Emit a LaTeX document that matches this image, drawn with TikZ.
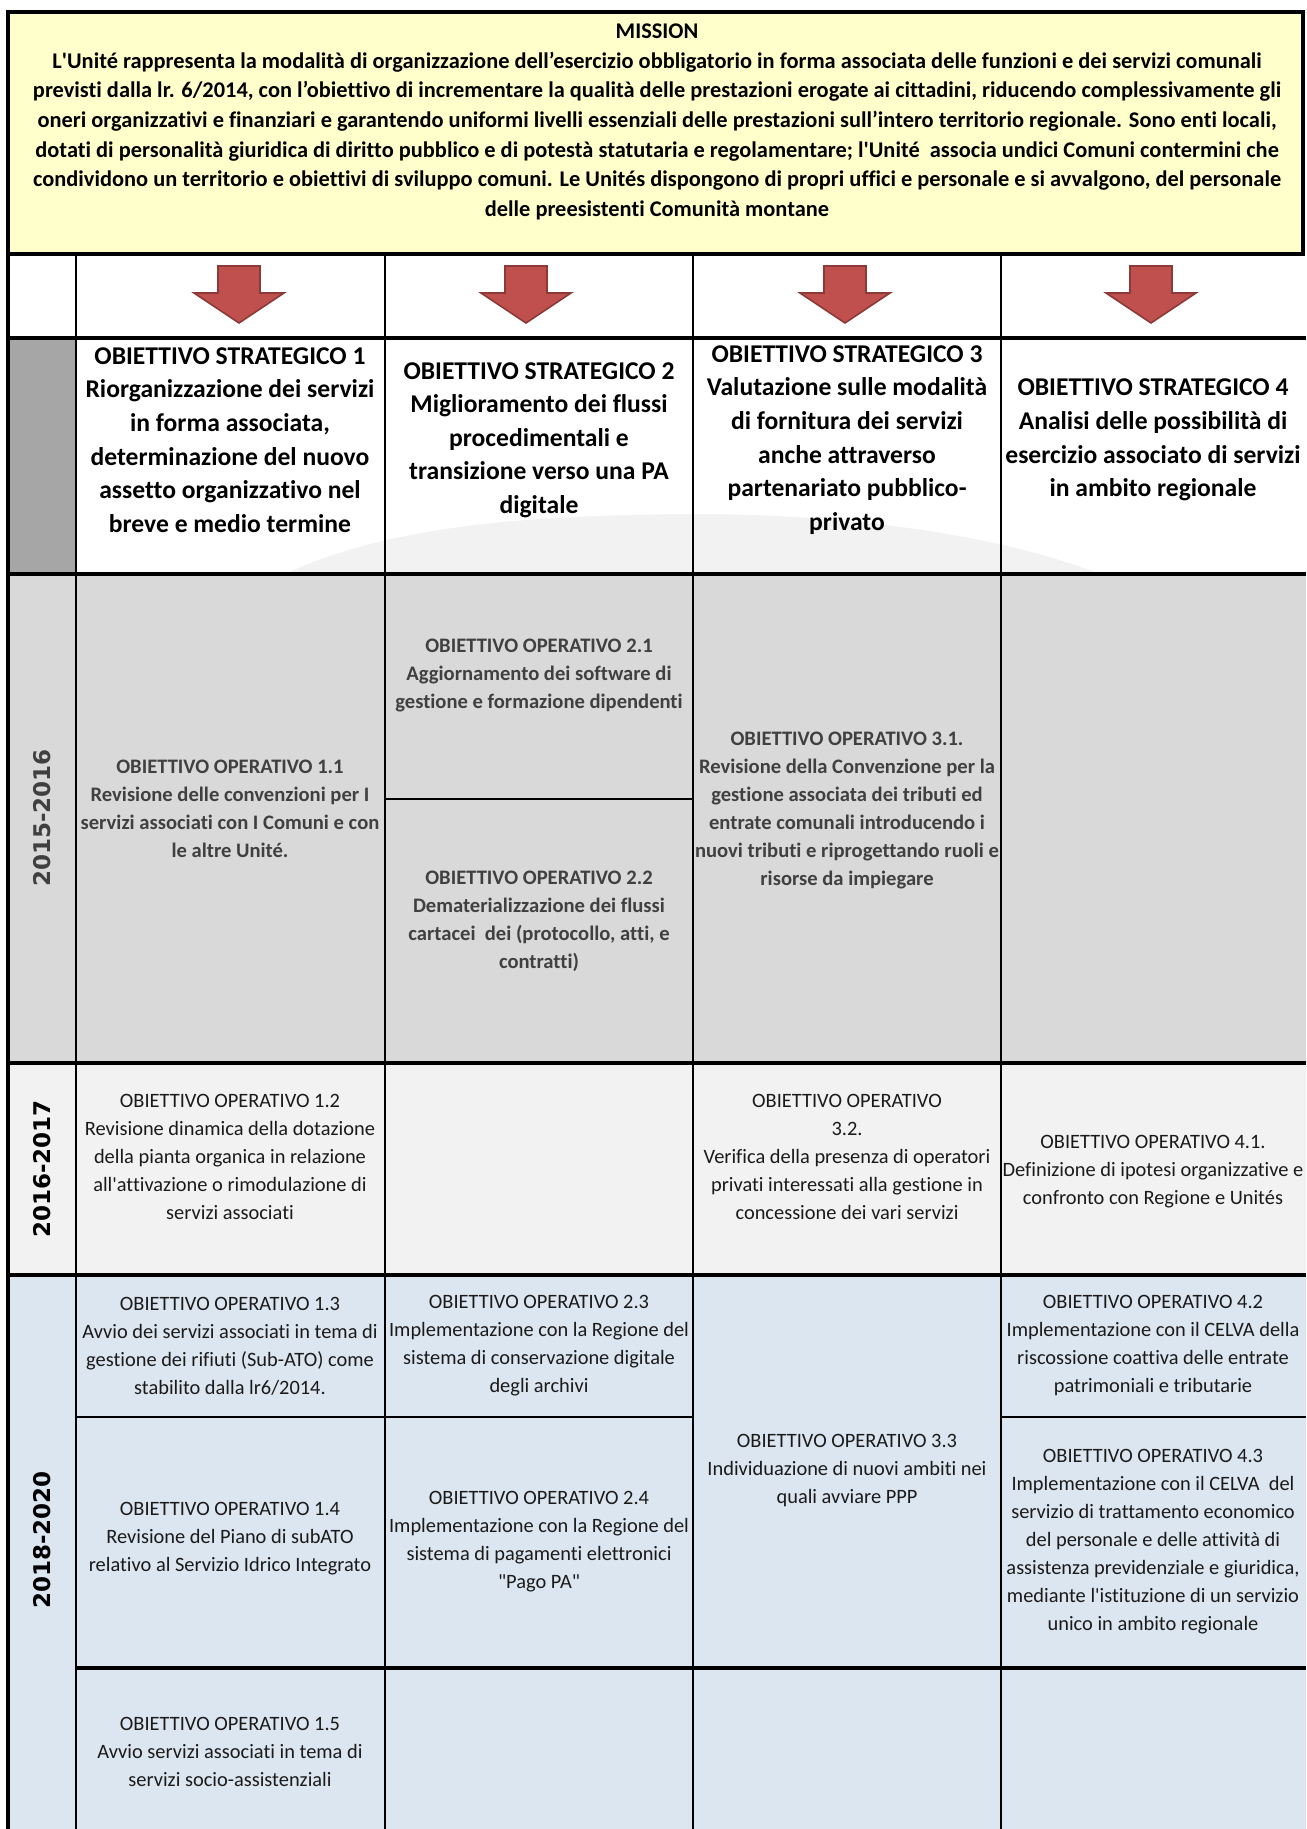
\documentclass[tikz,border=0pt]{standalone}
\usepackage{fontspec}
\setmainfont{Carlito}[Ligatures=NoCommon]
\newfontfamily\yearfont{DejaVu Sans}

\definecolor{missionfill}{HTML}{FFFFCC}
\definecolor{stratgray}{HTML}{A6A6A6}
\definecolor{rowA}{HTML}{D9D9D9}
\definecolor{rowB}{HTML}{F2F2F2}
\definecolor{rowC}{HTML}{DCE6F1}
\definecolor{arrowred}{HTML}{C0504D}
\definecolor{arrowdark}{HTML}{8C3A38}
\definecolor{opgray}{HTML}{404040}
\definecolor{optext}{HTML}{1A1A1A}

\newcommand{\apos}{\textquotesingle}

\tikzset{
  mission/.style={inner sep=0pt, align=center, font=\fontsize{11.2}{14.8}\selectfont\bfseries},
  strat/.style={inner sep=0pt, align=center, font=\fontsize{12.8}{16.8}\selectfont\bfseries},
  opbold/.style={inner sep=0pt, align=center, text=opgray, font=\fontsize{10.3}{14}\selectfont\bfseries},
  opreg/.style={inner sep=0pt, align=center, text=optext, font=\fontsize{10.2}{14}\selectfont},
  yearlab/.style={inner sep=0pt, rotate=90, font=\yearfont\fontsize{11.5}{13}\selectfont\bfseries},
  dnarrow/.style={fill=arrowred, draw=arrowdark, line width=0.8pt, line join=miter},
  thickline/.style={line width=1.7pt},
  colline/.style={line width=1.2pt},
  subline/.style={line width=1pt}
}

\begin{document}
\begin{tikzpicture}[x=0.5pt,y=-0.5pt]
  \useasboundingbox (0,0) rectangle (1306,1829);

  % backgrounds
  \fill[missionfill] (8,12) rectangle (1303,254);
  \fill[stratgray] (8,338) rectangle (76,574);
  \fill[rowA] (8,574) rectangle (1306,1063);
  \fill[rowB] (8,1063) rectangle (1306,1275);
  \fill[rowC] (8,1275) rectangle (1306,1829);
  \fill[black!5] (285,574) .. controls (390,525) and (530,515) .. (693,514)
    .. controls (850,514) and (1000,535) .. (1100,574) -- cycle;

  % arrows
  \draw[dnarrow] (218,266) -- ++(42,0) -- ++(0,27) -- ++(24,0) -- ++(-45,30) -- ++(-45,-30) -- ++(24,0) -- cycle;
  \draw[dnarrow] (505,266) -- ++(42,0) -- ++(0,27) -- ++(24,0) -- ++(-45,30) -- ++(-45,-30) -- ++(24,0) -- cycle;
  \draw[dnarrow] (824,266) -- ++(42,0) -- ++(0,27) -- ++(24,0) -- ++(-45,30) -- ++(-45,-30) -- ++(24,0) -- cycle;
  \draw[dnarrow] (1130,266) -- ++(42,0) -- ++(0,27) -- ++(24,0) -- ++(-45,30) -- ++(-45,-30) -- ++(24,0) -- cycle;

  % grid
  \draw[thickline] (8,12) rectangle (1303,254);
  \draw[thickline] (8,254) -- (8,1829);
  \draw[thickline] (8,338) -- (1306,338);
  \draw[thickline] (8,574) -- (1306,574);
  \draw[thickline] (8,1063) -- (1306,1063);
  \draw[thickline] (8,1275) -- (1306,1275);
  \draw[thickline] (76,1668) -- (1306,1668);
  \draw[colline] (76,254) -- (76,1829);
  \draw[colline] (385,254) -- (385,1829);
  \draw[colline] (693,254) -- (693,1829);
  \draw[colline] (1001,254) -- (1001,1829);
  \draw[subline] (385,799) -- (693,799);
  \draw[subline] (76,1417) -- (693,1417);
  \draw[subline] (1001,1417) -- (1306,1417);

  % mission
  \node[mission] (mission) at (657,122) {MISSION\\
    L\apos Unité rappresenta la modalità di organizzazione dell’esercizio obbligatorio in forma associata delle funzioni e dei servizi comunali\\
    previsti dalla lr. 6/2014, con l’obiettivo di incrementare la qualità delle prestazioni erogate ai cittadini, riducendo complessivamente gli\\
    oneri organizzativi e finanziari e garantendo uniformi livelli essenziali delle prestazioni sull’intero territorio regionale. Sono enti locali,\\
    dotati di personalità giuridica di diritto pubblico e di potestà statutaria e regolamentare; l\apos Unité\ \ associa undici Comuni contermini che\\
    condividono un territorio e obiettivi di sviluppo comuni. Le Unités dispongono di propri uffici e personale e si avvalgono, del personale\\
    delle preesistenti Comunità montane};

  % strategic goals
  \node[strat] (strat1) at (230,440) {OBIETTIVO STRATEGICO 1\\ Riorganizzazione dei servizi\\ in forma associata,\\ determinazione del nuovo\\ assetto organizzativo nel\\ breve e medio termine};
  \node[strat] (strat2) at (539,440) {OBIETTIVO STRATEGICO 2\\ Miglioramento dei flussi\\ procedimentali e\\ transizione verso una PA\\ digitale};
  \node[strat] (strat3) at (847,440) {OBIETTIVO STRATEGICO 3\\ Valutazione sulle modalità\\ di fornitura dei servizi\\ anche attraverso\\ partenariato pubblico-\\ privato};
  \node[strat] (strat4) at (1153,440) {OBIETTIVO STRATEGICO 4\\ Analisi delle possibilità di\\ esercizio associato di servizi\\ in ambito regionale};

  % years
  \node[yearlab, text=opgray] (y1516) at (42,818) {2015-2016};
  \node[yearlab] (y1617) at (42,1169) {2016-2017};
  \node[yearlab] (y1820) at (42,1540) {2018-2020};

  % 2015-2016
  \node[opbold] (op11) at (230,809) {OBIETTIVO OPERATIVO 1.1\\ Revisione delle convenzioni per I\\ servizi associati con I Comuni e con\\ le altre Unité.};
  \node[opbold] (op21) at (539,675) {OBIETTIVO OPERATIVO 2.1\\ Aggiornamento dei software di\\ gestione e formazione dipendenti};
  \node[opbold] (op22) at (539,921) {OBIETTIVO OPERATIVO 2.2\\ Dematerializzazione dei flussi\\ cartacei\ \ dei (protocollo, atti, e\\ contratti)};
  \node[opbold] (op31) at (847,810) {OBIETTIVO OPERATIVO 3.1.\\ Revisione della Convenzione per la\\ gestione associata dei tributi ed\\ entrate comunali introducendo i\\ nuovi tributi e riprogettando ruoli e\\ risorse da impiegare};

  % 2016-2017
  \node[opreg] (op12) at (230,1157) {OBIETTIVO OPERATIVO 1.2\\ Revisione dinamica della dotazione\\ della pianta organica in relazione\\ all\apos attivazione o rimodulazione di\\ servizi associati};
  \node[opreg] (op32) at (847,1157) {OBIETTIVO OPERATIVO\\ 3.2.\\ Verifica della presenza di operatori\\ privati interessati alla gestione in\\ concessione dei vari servizi};
  \node[opreg] (op41) at (1153,1172) {OBIETTIVO OPERATIVO 4.1.\\ Definizione di ipotesi organizzative e\\ confronto con Regione e Unités};

  % 2018-2020
  \node[opreg] (op13) at (230,1346) {OBIETTIVO OPERATIVO 1.3\\ Avvio dei servizi associati in tema di\\ gestione dei rifiuti (Sub-ATO) come\\ stabilito dalla lr6/2014.};
  \node[opreg] (op23) at (539,1346) {OBIETTIVO OPERATIVO 2.3\\ Implementazione con la Regione del\\ sistema di conservazione digitale\\ degli archivi};
  \node[opreg] (op42) at (1153,1346) {OBIETTIVO OPERATIVO 4.2\\ Implementazione con il CELVA della\\ riscossione coattiva delle entrate\\ patrimoniali e tributarie};
  \node[opreg] (op14) at (230,1539) {OBIETTIVO OPERATIVO 1.4\\ Revisione del Piano di subATO\\ relativo al Servizio Idrico Integrato};
  \node[opreg] (op24) at (539,1542) {OBIETTIVO OPERATIVO 2.4\\ Implementazione con la Regione del\\ sistema di pagamenti elettronici\\ \textquotedbl Pago PA\textquotedbl};
  \node[opreg] (op33) at (847,1471) {OBIETTIVO OPERATIVO 3.3\\ Individuazione di nuovi ambiti nei\\ quali avviare PPP};
  \node[opreg] (op43) at (1153,1542) {OBIETTIVO OPERATIVO 4.3\\ Implementazione con il CELVA\ \ del\\ servizio di trattamento economico\\ del personale e delle attività di\\ assistenza previdenziale e giuridica,\\ mediante l\apos istituzione di un servizio\\ unico in ambito regionale};
  \node[opreg] (op15) at (230,1752) {OBIETTIVO OPERATIVO 1.5\\ Avvio servizi associati in tema di\\ servizi socio-assistenziali};
\end{tikzpicture}
\end{document}
